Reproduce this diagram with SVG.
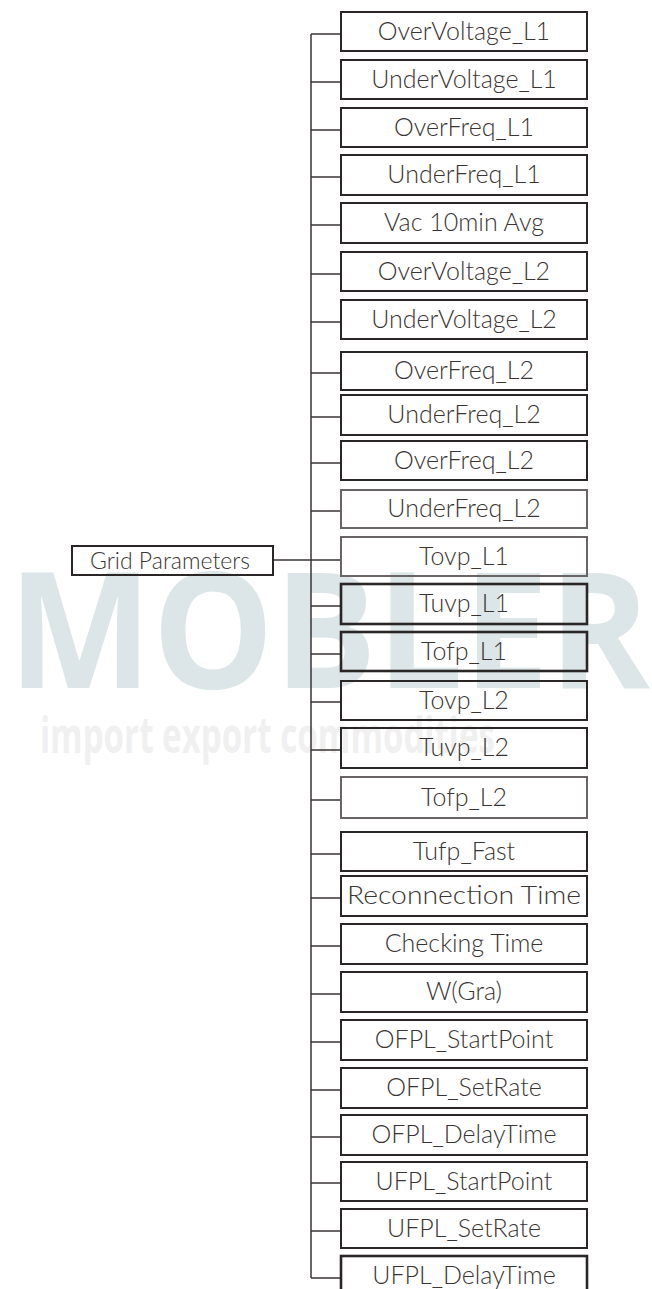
<svg xmlns="http://www.w3.org/2000/svg" width="652" height="1289" viewBox="0 0 652 1289">
<style>
.bg{fill:#ffffff}
.wm1{font-family:"Open Sans","DejaVu Sans",sans-serif;font-weight:bold;font-size:162px;fill:#dce5e7}
.wm2{font-family:"Open Sans","DejaVu Sans",sans-serif;font-weight:bold;font-size:50px;fill:#f0f0f0}
.box{fill:none;stroke:#2b2626;stroke-width:2}
.box.lt{stroke:#6a6464}
.box.hv{stroke-width:2.6}
.lbl{font-family:"Lato","Open Sans","Liberation Sans",sans-serif;font-weight:300;font-size:25px;fill:#3a3535;text-anchor:middle}
.con{fill:none;stroke:#3a3535;stroke-width:1.5}
</style>
<rect class="bg" x="0" y="0" width="652" height="1289"/>
<g id="watermark">
<text class="wm1" x="8" y="688" textLength="642" lengthAdjust="spacingAndGlyphs">MOBLER</text>
<text class="wm2" x="40" y="753" textLength="455" lengthAdjust="spacingAndGlyphs">import export commodities</text>
</g>
<g id="connectors">
<path class="con" d="M311 34 V1278"/>
<path class="con" d="M273 560 H311"/>
<path class="con" d="M311 34 H341 M311 82 H341 M311 130 H341 M311 177 H341 M311 225 H341 M311 274 H341 M311 322 H341 M311 373 H341 M311 417 H341 M311 463 H341 M311 511 H341 M311 560 H341 M311 606 H341 M311 654 H341 M311 702 H341 M311 750 H341 M311 800 H341 M311 854 H341 M311 898 H341 M311 946 H341 M311 994 H341 M311 1042 H341 M311 1090 H341 M311 1137 H341 M311 1183 H341 M311 1231 H341 M311 1278 H341"/>
</g>
<g id="grid-parameters">
<rect class="box" x="72" y="546" width="201" height="29"/>
<text class="lbl" x="170" y="569" style="font-size:23px">Grid Parameters</text>
</g>
<g id="n0"><rect class="box" x="341" y="12" width="246" height="39"/><text class="lbl" x="464" y="40">OverVoltage_L1</text></g>
<g id="n1"><rect class="box" x="341" y="60" width="246" height="39"/><text class="lbl" x="464" y="88">UnderVoltage_L1</text></g>
<g id="n2"><rect class="box" x="341" y="108" width="246" height="39"/><text class="lbl" x="464" y="136">OverFreq_L1</text></g>
<g id="n3"><rect class="box" x="341" y="155" width="246" height="40"/><text class="lbl" x="464" y="183">UnderFreq_L1</text></g>
<g id="n4"><rect class="box" x="341" y="203" width="246" height="40"/><text class="lbl" x="464" y="231">Vac 10min Avg</text></g>
<g id="n5"><rect class="box" x="341" y="252" width="246" height="39"/><text class="lbl" x="464" y="280">OverVoltage_L2</text></g>
<g id="n6"><rect class="box" x="341" y="300" width="246" height="39"/><text class="lbl" x="464" y="328">UnderVoltage_L2</text></g>
<g id="n7"><rect class="box" x="341" y="352" width="246" height="38"/><text class="lbl" x="464" y="379">OverFreq_L2</text></g>
<g id="n8"><rect class="box" x="341" y="395" width="246" height="40"/><text class="lbl" x="464" y="423">UnderFreq_L2</text></g>
<g id="n9"><rect class="box" x="341" y="441" width="246" height="39"/><text class="lbl" x="464" y="469">OverFreq_L2</text></g>
<g id="n10"><rect class="box lt" x="341" y="490" width="246" height="38"/><text class="lbl" x="464" y="517">UnderFreq_L2</text></g>
<g id="n11"><rect class="box lt" x="341" y="537" width="246" height="39"/><text class="lbl" x="464" y="565">Tovp_L1</text></g>
<g id="n12"><rect class="box hv" x="341" y="584" width="246" height="40"/><text class="lbl" x="464" y="612">Tuvp_L1</text></g>
<g id="n13"><rect class="box hv" x="341" y="632" width="246" height="39"/><text class="lbl" x="464" y="660">Tofp_L1</text></g>
<g id="n14"><rect class="box" x="341" y="681" width="246" height="39"/><text class="lbl" x="464" y="709">Tovp_L2</text></g>
<g id="n15"><rect class="box" x="341" y="728" width="246" height="40"/><text class="lbl" x="464" y="756">Tuvp_L2</text></g>
<g id="n16"><rect class="box lt" x="341" y="777" width="246" height="41"/><text class="lbl" x="464" y="806">Tofp_L2</text></g>
<g id="n17"><rect class="box" x="341" y="832" width="246" height="39"/><text class="lbl" x="464" y="860">Tufp_Fast</text></g>
<g id="n18"><rect class="box" x="341" y="876" width="246" height="40"/><text class="lbl" x="464" y="904" textLength="234" lengthAdjust="spacingAndGlyphs">Reconnection Time</text></g>
<g id="n19"><rect class="box" x="341" y="924" width="246" height="40"/><text class="lbl" x="464" y="952">Checking Time</text></g>
<g id="n20"><rect class="box" x="341" y="972" width="246" height="40"/><text class="lbl" x="464" y="1000">W(Gra)</text></g>
<g id="n21"><rect class="box" x="341" y="1020" width="246" height="40"/><text class="lbl" x="464" y="1048">OFPL_StartPoint</text></g>
<g id="n22"><rect class="box" x="341" y="1068" width="246" height="40"/><text class="lbl" x="464" y="1096">OFPL_SetRate</text></g>
<g id="n23"><rect class="box" x="341" y="1115" width="246" height="40"/><text class="lbl" x="464" y="1143">OFPL_DelayTime</text></g>
<g id="n24"><rect class="box" x="341" y="1162" width="246" height="39"/><text class="lbl" x="464" y="1190">UFPL_StartPoint</text></g>
<g id="n25"><rect class="box" x="341" y="1209" width="246" height="39"/><text class="lbl" x="464" y="1237">UFPL_SetRate</text></g>
<g id="n26"><rect class="box hv" x="341" y="1256" width="246" height="40"/><text class="lbl" x="464" y="1284">UFPL_DelayTime</text></g>
</svg>
